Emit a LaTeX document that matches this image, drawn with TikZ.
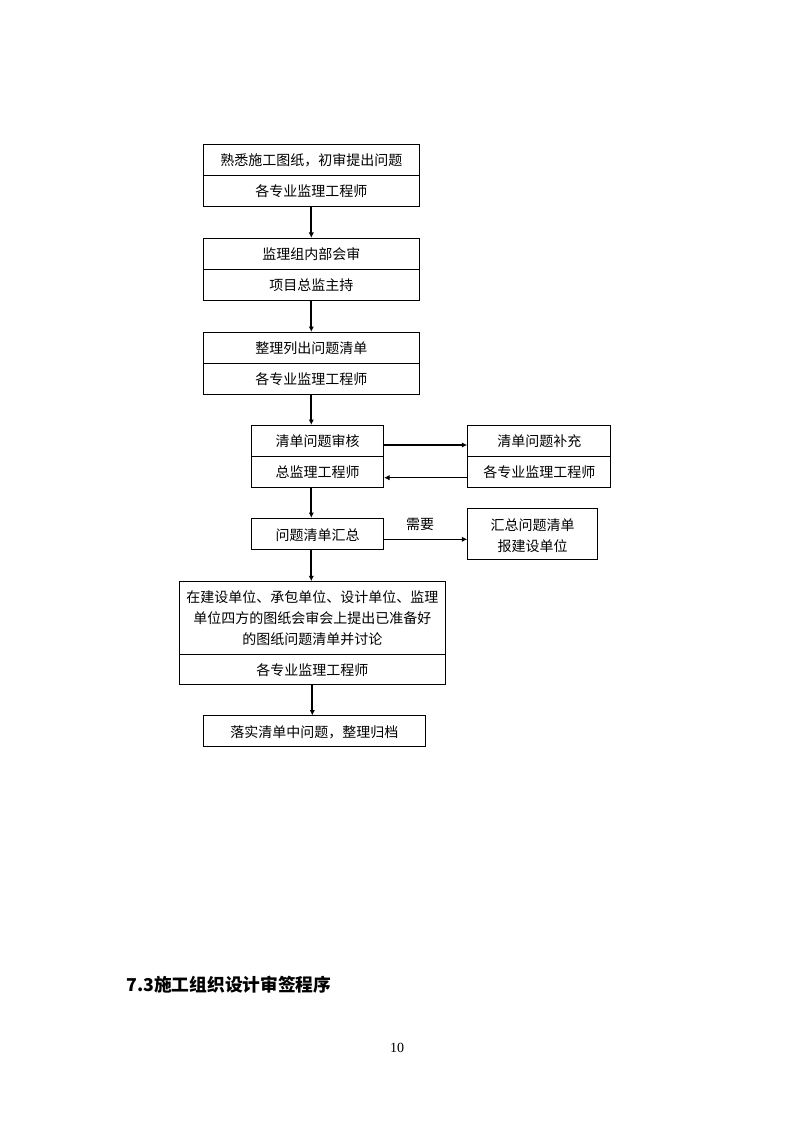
\documentclass[tikz,border=0pt]{standalone}
\usepackage{fontspec}
\setmainfont{Liberation Serif}
\newfontfamily\cjk{Noto Sans CJK SC}
\usetikzlibrary{arrows.meta}
\begin{document}
\begin{tikzpicture}[x=0.75pt,y=-0.75pt,
  box/.style={draw,line width=0.7pt,inner sep=0pt},
  sz/.style 2 args={minimum width=#1*0.75pt,minimum height=#2*0.75pt},
  txt/.style={inner sep=0pt,font=\cjk\fontsize{10.5}{15.75}\selectfont,align=center},
  thickarrow/.style={line width=1.6pt,-{Latex[length=4pt,width=4pt]}},
  thinarrow/.style={line width=0.7pt,-{Latex[length=4pt,width=4pt]}},
  divider/.style={line width=0.7pt}
]
\useasboundingbox (0,0) rectangle (794,1123);

% boxes
\node[box,sz={216}{62}] (b1) at (311.3,175.3) {};
\node[box,sz={216}{62}] (b2) at (311.3,269.3) {};
\node[box,sz={216}{62}] (b3) at (311.3,363.3) {};
\node[box,sz={132}{62}] (b4) at (317.7,456.3) {};
\node[box,sz={143.3}{62}] (b5) at (539.3,456.3) {};
\node[box,sz={132}{31.4}] (b6) at (317.7,534) {};
\node[box,sz={129.6}{51.3}] (b7) at (532.5,534.3) {};
\node[box,sz={266}{103.3}] (b8) at (312.3,633.3) {};
\node[box,sz={222}{30.7}] (b9) at (314.3,731.3) {};

% dividers
\draw[divider] (b1.west) -- (b1.east);
\draw[divider] (b2.west) -- (b2.east);
\draw[divider] (b3.west) -- (b3.east);
\draw[divider] (b4.west) -- (b4.east);
\draw[divider] (b5.west) -- (b5.east);
\coordinate (bbd) at (0,654.3);
\draw[divider] (b8.west |- bbd) -- (b8.east |- bbd);

% texts
\node[txt] (t1a) at (311.3,160.5) {熟悉施工图纸，初审提出问题};
\node[txt] (t1b) at (311.3,191.5) {各专业监理工程师};
\node[txt] (t2a) at (311.3,254) {监理组内部会审};
\node[txt] (t2b) at (311.3,285) {项目总监主持};
\node[txt] (t3a) at (311.3,348) {整理列出问题清单};
\node[txt] (t3b) at (311.3,379) {各专业监理工程师};
\node[txt] (t4a) at (317.7,441.5) {清单问题审核};
\node[txt] (t4b) at (317.7,472) {总监理工程师};
\node[txt] (t5a) at (539.3,441.5) {清单问题补充};
\node[txt] (t5b) at (539.3,472.5) {各专业监理工程师};
\node[txt] (t6) at (317.7,535) {问题清单汇总};
\node[txt] (t7) at (532.5,535.5) {汇总问题清单\\报建设单位};
\node[txt] (t8a) at (312.3,617.8) {在建设单位、承包单位、设计单位、监理\\单位四方的图纸会审会上提出已准备好\\的图纸问题清单并讨论};
\node[txt] (t8b) at (312.3,670) {各专业监理工程师};
\node[txt] (t9) at (314.3,732) {落实清单中问题，整理归档};
\node[txt] (need) at (420,524.5) {需要};

% vertical arrows
\draw[thickarrow] (b1.south) -- (b2.north);
\draw[thickarrow] (b2.south) -- (b3.north);
\draw[thickarrow] (b3.south) -- (b3.south |- b4.north);
\draw[thickarrow] (b3.south |- b4.south) -- (b3.south |- b6.north);
\draw[thickarrow] (b3.south |- b6.south) -- (b3.south |- b8.north);
\draw[thickarrow] (b8.south) -- (b8.south |- b9.north);

% horizontal arrows
\coordinate (ya) at (0,445);
\coordinate (yb) at (0,477.7);
\coordinate (yc) at (0,539.3);
\draw[thickarrow] (b4.east |- ya) -- (b5.west |- ya);
\draw[thinarrow] (b5.west |- yb) -- (b4.east |- yb);
\draw[thinarrow] (b6.east |- yc) -- (b7.west |- yc);

% heading and page number
\node[anchor=west,inner sep=0pt,font=\cjk\bfseries\fontsize{13.3}{16}\selectfont] (title) at (126,985) {7.3施工组织设计审签程序};
\node[inner sep=0pt,font=\fontsize{10.5}{12}\selectfont] (pn) at (397,1048) {10};
\end{tikzpicture}
\end{document}
